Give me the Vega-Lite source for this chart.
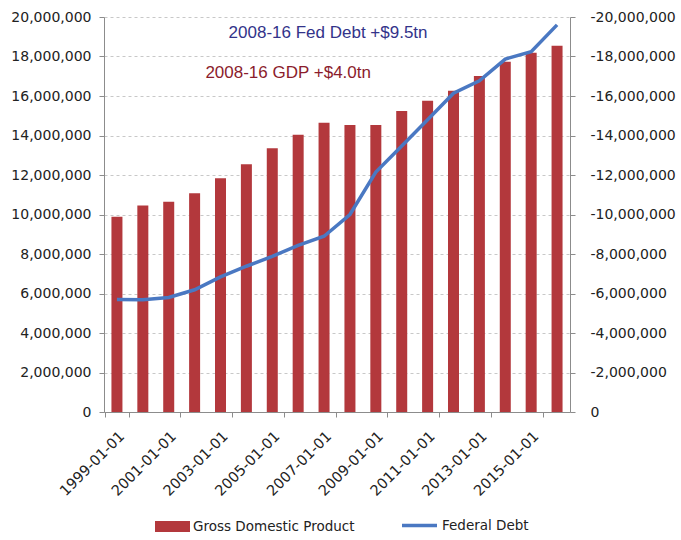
{
  "$schema": "https://vega.github.io/schema/vega-lite/v6.json",
  "width": 466,
  "height": 395,
  "autosize": {"type": "none"},
  "padding": {"left": 104, "top": 17, "right": 111, "bottom": 128},
  "background": "white",
  "config": {
    "view": {"stroke": null},
    "font": "DejaVu Sans",
    "axis": {"labelFont": "DejaVu Sans", "labelFontSize": 14, "labelColor": "#222222", "domainColor": "#8c8c8c", "tickColor": "#8c8c8c", "tickSize": 5, "title": null}
  },
  "data": {
    "values": [
      {"date": "1999-01-01", "gdp": 9890000, "debt": 5690000},
      {"date": "2000-01-01", "gdp": 10450000, "debt": 5680000},
      {"date": "2001-01-01", "gdp": 10650000, "debt": 5800000},
      {"date": "2002-01-01", "gdp": 11070000, "debt": 6190000},
      {"date": "2003-01-01", "gdp": 11830000, "debt": 6840000},
      {"date": "2004-01-01", "gdp": 12540000, "debt": 7380000},
      {"date": "2005-01-01", "gdp": 13350000, "debt": 7880000},
      {"date": "2006-01-01", "gdp": 14040000, "debt": 8440000},
      {"date": "2007-01-01", "gdp": 14650000, "debt": 8900000},
      {"date": "2008-01-01", "gdp": 14530000, "debt": 10000000},
      {"date": "2009-01-01", "gdp": 14530000, "debt": 12150000},
      {"date": "2010-01-01", "gdp": 15240000, "debt": 13470000},
      {"date": "2011-01-01", "gdp": 15760000, "debt": 14800000},
      {"date": "2012-01-01", "gdp": 16270000, "debt": 16140000},
      {"date": "2013-01-01", "gdp": 17010000, "debt": 16770000},
      {"date": "2014-01-01", "gdp": 17740000, "debt": 17870000},
      {"date": "2015-01-01", "gdp": 18190000, "debt": 18240000},
      {"date": "2016-01-01", "gdp": 18550000, "debt": 19600000}
    ]
  },
  "layer": [
    {
      "mark": {"type": "bar", "width": 11},
      "encoding": {
        "x": {
          "field": "date", "type": "ordinal",
          "axis": {
            "values": ["1999-01-01", "2001-01-01", "2003-01-01", "2005-01-01", "2007-01-01", "2009-01-01", "2011-01-01", "2013-01-01", "2015-01-01"],
            "tickBand": "extent",
            "labelAngle": -45,
            "labelFontSize": 14.5,
            "labelPadding": 12,
            "grid": false
          }
        },
        "y": {
          "field": "gdp", "type": "quantitative",
          "scale": {"domain": [0, 20000000], "nice": false},
          "axis": {
            "orient": "left",
            "values": [0, 2000000, 4000000, 6000000, 8000000, 10000000, 12000000, 14000000, 16000000, 18000000, 20000000],
            "labelExpr": "format(datum.value, ',')",
            "labelPadding": 8,
            "grid": true,
            "gridColor": "#c8c8c8",
            "gridDash": [3, 3]
          }
        },
        "fill": {
          "datum": "Gross Domestic Product",
          "scale": {"range": ["#b3383c"]},
          "legend": {"orient": "none", "legendX": 51, "legendY": 492, "title": null, "symbolType": "M-1,-0.32H1V0.32H-1Z", "symbolSize": 1225, "symbolStrokeWidth": 0, "labelFontSize": 13.5, "labelLimit": 300, "labelOffset": 3, "labelColor": "#222222", "labelFont": "DejaVu Sans"}
        }
      }
    },
    {
      "mark": {"type": "line", "strokeWidth": 3.5, "interpolate": "linear"},
      "encoding": {
        "x": {"field": "date", "type": "ordinal"},
        "y": {
          "field": "debt", "type": "quantitative",
          "scale": {"domain": [0, 20000000], "nice": false},
          "axis": {
            "orient": "right",
            "values": [0, 2000000, 4000000, 6000000, 8000000, 10000000, 12000000, 14000000, 16000000, 18000000, 20000000],
            "labelExpr": "datum.value == 0 ? '0' : '-' + format(datum.value, ',')",
            "labelPadding": 15,
            "grid": false
          }
        },
        "stroke": {
          "datum": "Federal Debt",
          "scale": {"range": ["#4a78c2"]},
          "legend": {"orient": "none", "legendX": 296, "legendY": 489, "title": null, "symbolType": "stroke", "symbolSize": 1225, "symbolStrokeWidth": 3.5, "labelFontSize": 13.5, "labelLimit": 300, "labelOffset": 3, "labelColor": "#222222", "labelFont": "DejaVu Sans"}
        }
      }
    },
    {
      "data": {"values": [{"date": "2007-01-01", "y": 19190000, "label": "2008-16 Fed Debt +$9.5tn"}]},
      "mark": {"type": "text", "font": "Liberation Sans", "fontSize": 17, "color": "#33338a", "dx": 4, "baseline": "middle", "align": "center"},
      "encoding": {
        "x": {"field": "date", "type": "ordinal"},
        "y": {"field": "y", "type": "quantitative", "scale": {"domain": [0, 20000000], "nice": false}, "axis": null},
        "text": {"field": "label"}
      }
    },
    {
      "data": {"values": [{"date": "2006-01-01", "y": 17160000, "label": "2008-16 GDP +$4.0tn"}]},
      "mark": {"type": "text", "font": "Liberation Sans", "fontSize": 17, "color": "#8b1c2c", "dx": -10, "baseline": "middle", "align": "center"},
      "encoding": {
        "x": {"field": "date", "type": "ordinal"},
        "y": {"field": "y", "type": "quantitative", "scale": {"domain": [0, 20000000], "nice": false}, "axis": null},
        "text": {"field": "label"}
      }
    }
  ],
  "resolve": {"scale": {"y": "independent", "fill": "independent", "stroke": "independent"}}
}
